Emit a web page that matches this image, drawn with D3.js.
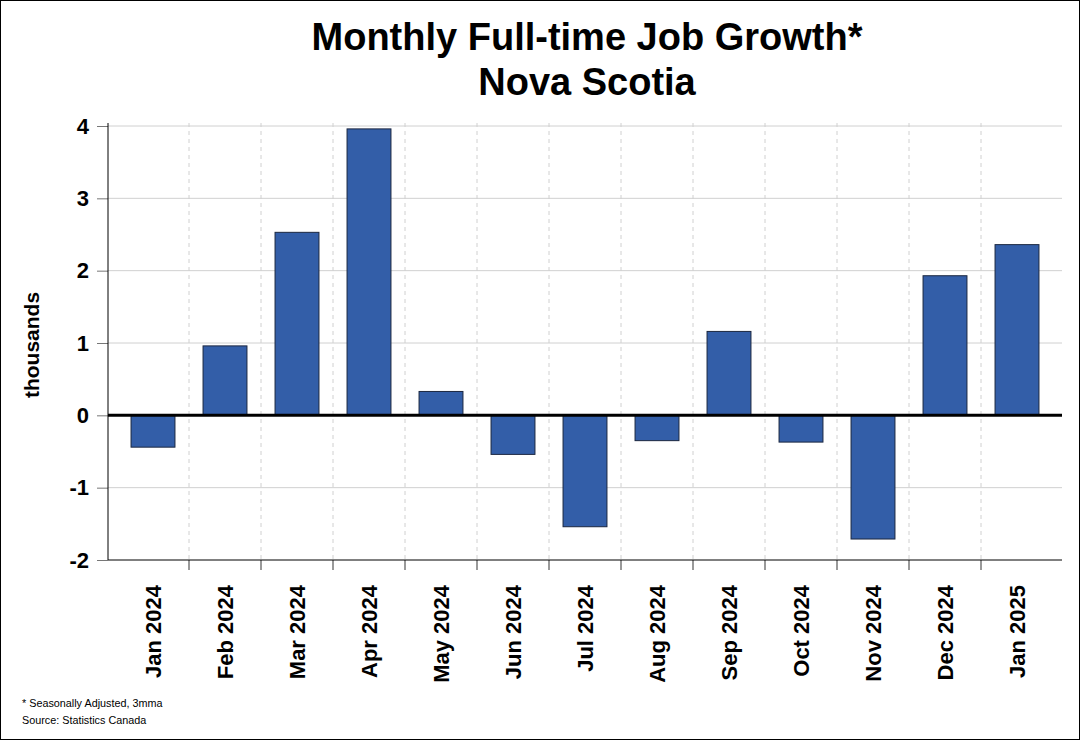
<!DOCTYPE html>
<html><head><meta charset="utf-8">
<script src="https://cdn.jsdelivr.net/npm/d3@7"></script>
<style>body{margin:0;background:#fff}svg{display:block}text{font-family:"Liberation Sans",Arial,sans-serif}</style>
</head><body>
<script>
const categories = ["Jan 2024","Feb 2024","Mar 2024","Apr 2024","May 2024","Jun 2024","Jul 2024","Aug 2024","Sep 2024","Oct 2024","Nov 2024","Dec 2024","Jan 2025"];
const values = [-0.44, 0.96, 2.53, 3.96, 0.33, -0.54, -1.54, -0.35, 1.16, -0.37, -1.71, 1.93, 2.36];
const yTicks = [-2,-1,0,1,2,3,4];
const titleLines = ["Monthly Full-time Job Growth*","Nova Scotia"];
const yLabel = "thousands";
const notes = ["* Seasonally Adjusted, 3mma","Source: Statistics Canada"];

const W=1080,H=740;
const plot={l:108,r:1062,t:123,b:560};
const svg=d3.select("body").append("svg").attr("width",W).attr("height",H);
svg.append("rect").attr("x",0.5).attr("y",0.5).attr("width",W-1).attr("height",H-1).attr("fill","#fff").attr("stroke","#000");

const x=d3.scaleBand().domain(categories).range([117,1053]).paddingInner(0).paddingOuter(0);
const y=d3.scaleLinear().domain([-2,4]).range([560,126]);

svg.append("g").selectAll("line").data(yTicks.filter(d=>d!==0&&d!==-2)).join("line")
 .attr("x1",plot.l).attr("x2",plot.r).attr("y1",d=>y(d)).attr("y2",d=>y(d))
 .attr("stroke","#d0d0d0").attr("stroke-width",1);
const bounds=categories.slice(1).map(c=>x(c));
svg.append("g").selectAll("line").data(bounds).join("line")
 .attr("x1",d=>d).attr("x2",d=>d).attr("y1",plot.t).attr("y2",plot.b)
 .attr("stroke","#d0d0d0").attr("stroke-dasharray","4,4").attr("stroke-width",1);

const yAxis=svg.append("g").attr("transform",`translate(${plot.l},0)`)
 .call(d3.axisLeft(y).tickValues(yTicks).tickSize(11).tickPadding(8).tickFormat(d=>String(d)));
yAxis.select(".domain").remove();
yAxis.selectAll(".tick line").attr("stroke","#777");
yAxis.selectAll(".tick text").attr("font-size",22).attr("font-weight","bold").attr("fill","#000");
svg.append("line").attr("x1",plot.l).attr("x2",plot.l).attr("y1",plot.t).attr("y2",plot.b).attr("stroke","#000");

const xAxis=svg.append("g").attr("transform",`translate(0,${plot.b})`)
 .call(d3.axisBottom(x).tickSize(0).tickPadding(0));
xAxis.select(".domain").remove();
xAxis.selectAll(".tick text")
 .attr("font-size",22).attr("font-weight","bold").attr("fill","#000")
 .attr("text-anchor","end").attr("dy","0.35em")
 .attr("transform","translate(0,25) rotate(-90)").attr("x",0).attr("y",0);
svg.append("g").selectAll("line").data(bounds).join("line")
 .attr("x1",d=>d).attr("x2",d=>d).attr("y1",plot.b).attr("y2",plot.b+10)
 .attr("stroke","#777").attr("stroke-width",1.5);
svg.append("line").attr("x1",plot.l).attr("x2",plot.r).attr("y1",plot.b).attr("y2",plot.b).attr("stroke","#000");

const bw=x.bandwidth()*0.61;
svg.append("g").selectAll("rect").data(values).join("rect")
 .attr("x",(d,i)=>x(categories[i])+x.bandwidth()/2-bw/2)
 .attr("width",bw)
 .attr("y",d=>y(Math.max(0,d)))
 .attr("height",d=>Math.abs(y(d)-y(0)))
 .attr("fill","#335EA8").attr("stroke","#1b2740").attr("stroke-width",1);

svg.append("line").attr("x1",plot.l).attr("x2",plot.r).attr("y1",y(0)).attr("y2",y(0)).attr("stroke","#000").attr("stroke-width",3);

svg.append("g").selectAll("text").data(titleLines).join("text")
 .attr("x",587).attr("y",(d,i)=>50+i*45).attr("text-anchor","middle")
 .attr("font-size",38).attr("font-weight","bold").text(d=>d);

svg.append("text").attr("transform","translate(39,345) rotate(-90)").attr("text-anchor","middle")
 .attr("font-size",21).attr("font-weight","bold").text(yLabel);

svg.append("g").selectAll("text").data(notes).join("text")
 .attr("x",22).attr("y",(d,i)=>707+i*17).attr("font-size",10.8).text(d=>d);
</script>
</body></html>
